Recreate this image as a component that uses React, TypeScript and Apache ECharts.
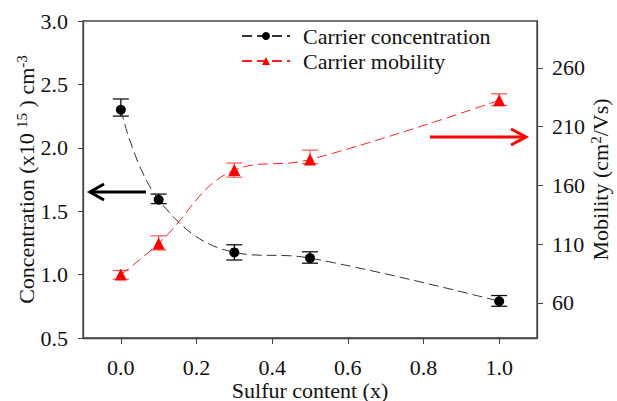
import React, { useEffect, useRef } from "react";
import * as echarts from "echarts";

const sulfur = [0.0, 0.1, 0.3, 0.5, 1.0];
const concentration = [2.30, 1.59, 1.175, 1.13, 0.79];
const concLow = [2.25, 1.56, 1.115, 1.09, 0.75];
const concHigh = [2.385, 1.635, 1.235, 1.18, 0.835];
const mobility = [84, 110.5, 173, 182, 232.5];
const mobLow = [80, 105, 167, 178.5, 228];
const mobHigh = [87.5, 117, 179, 190, 238];
const xTicks = [0, 0.2, 0.4, 0.6, 0.8, 1.0];
const rightTicks = [60, 110, 160, 210, 260];

const FONT = "Liberation Serif, Times New Roman, serif";

export default function App() {
  const ref = useRef<HTMLDivElement>(null);
  useEffect(() => {
    if (!ref.current) return;
    const chart = echarts.init(ref.current, undefined, { renderer: "svg" });
    const errorSeries = (low: number[], high: number[], color: string, yIdx: number, width: number) => ({
      type: "custom",
      yAxisIndex: yIdx,
      z: 1,
      silent: true,
      encode: { x: 0, y: [1, 2] },
      data: sulfur.map((x, i) => [x, low[i], high[i]]),
      renderItem: (params: any, api: any) => {
        const lo = api.coord([api.value(0), api.value(1)]);
        const hi = api.coord([api.value(0), api.value(2)]);
        const hw = 8;
        const style = { stroke: color, lineWidth: width };
        return {
          type: "group",
          children: [
            { type: "line", shape: { x1: lo[0], y1: lo[1], x2: hi[0], y2: hi[1] }, style },
            { type: "line", shape: { x1: lo[0] - hw, y1: lo[1], x2: lo[0] + hw, y2: lo[1] }, style },
            { type: "line", shape: { x1: hi[0] - hw, y1: hi[1], x2: hi[0] + hw, y2: hi[1] }, style },
          ],
        };
      },
    });
    const axisLine = { show: true, onZero: false, lineStyle: { color: "#444", width: 1.3 } };
    const supRich = { s: { fontFamily: FONT, fontSize: 15, color: "#111", verticalAlign: "top", padding: [0, 0, 10, 0] } };
    chart.setOption({
      animation: false,
      backgroundColor: "#fff",
      textStyle: { fontFamily: FONT, color: "#111" },
      grid: {
        left: 83, right: 80, top: 21, bottom: 63,
        outerBoundsMode: "none",
        containLabel: false,
        show: true, borderColor: "#444", borderWidth: 1.3,
      },
      legend: {
        data: ["Carrier concentration", "Carrier mobility"],
        orient: "vertical",
        left: 236,
        top: 20,
        itemWidth: 48,
        itemHeight: 10,
        itemGap: 3,
        textStyle: { fontFamily: FONT, fontSize: 22, color: "#111", padding: [0, 0, 0, 8] },
      },
      xAxis: {
        type: "value",
        min: -0.1,
        max: 1.1,
        name: "Sulfur content (x)",
        nameLocation: "middle",
        nameMoveOverlap: false,
        nameGap: 43,
        nameTextStyle: { fontFamily: FONT, fontSize: 22, lineHeight: 18, color: "#111" },
        axisLine,
        splitLine: { show: false },
        axisTick: { show: true, inside: false, length: 6, customValues: xTicks, lineStyle: { color: "#444" } },
        axisLabel: {
          customValues: xTicks,
          margin: 20,
          fontFamily: FONT,
          fontSize: 22,
          lineHeight: 18,
          color: "#111",
          formatter: (v: number) => v.toFixed(1),
        },
      },
      yAxis: [
        {
          type: "value",
          min: 0.5,
          max: 3.0,
          interval: 0.5,
          position: "left",
          name: "Concentration (x10 {s|15} ) cm{s|-3}",
          nameLocation: "middle",
          nameMoveOverlap: false,
          nameRotate: 90,
          nameGap: 44,
          nameTextStyle: { fontFamily: FONT, fontSize: 22, color: "#111", rich: supRich },
          axisLine,
          splitLine: { show: false },
          axisTick: { show: true, inside: false, length: 5, lineStyle: { color: "#444" } },
          axisLabel: { margin: 15, fontFamily: FONT, fontSize: 22, color: "#111", formatter: (v: number) => v.toFixed(1) },
        },
        {
          type: "value",
          min: 30,
          max: 300,
          position: "right",
          name: "Mobility (cm{s|2}/Vs)",
          nameLocation: "middle",
          nameMoveOverlap: false,
          nameRotate: 90,
          nameGap: 51,
          nameTextStyle: { fontFamily: FONT, fontSize: 22, color: "#111", rich: supRich },
          axisLine,
          splitLine: { show: false },
          axisTick: { show: true, inside: false, length: 6, customValues: rightTicks, lineStyle: { color: "#444" } },
          axisLabel: { customValues: rightTicks, margin: 15, fontFamily: FONT, fontSize: 22, color: "#111" },
        },
      ],
      series: [
        errorSeries(concLow, concHigh, "#111", 0, 1.3),
        errorSeries(mobLow, mobHigh, "#ff5050", 1, 1.2),
        {
          name: "Carrier concentration",
          type: "line",
          yAxisIndex: 0,
          z: 3,
          smooth: 0.4,
          data: sulfur.map((x, i) => [x, concentration[i]]),
          symbol: "circle",
          symbolSize: 10,
          itemStyle: { color: "#000" },
          lineStyle: { color: "#333", width: 1, type: [10, 5] },
        },
        {
          name: "Carrier mobility",
          type: "line",
          yAxisIndex: 1,
          z: 3,
          smooth: 0.4,
          data: sulfur.map((x, i) => [x, mobility[i]]),
          symbol: "triangle",
          symbolSize: 12,
          itemStyle: { color: "#ff0000" },
          lineStyle: { color: "#ff2020", width: 1, type: [10, 5] },
        },
      ],
      graphic: [
        { type: "line", shape: { x1: 92, y1: 192, x2: 146, y2: 192 }, style: { stroke: "#000", lineWidth: 3 } },
        { type: "polyline", shape: { points: [[104, 184], [90, 192], [104, 200]] }, style: { stroke: "#000", lineWidth: 3, fill: null } },
        { type: "line", shape: { x1: 430, y1: 137, x2: 524, y2: 137 }, style: { stroke: "#ff0000", lineWidth: 3 } },
        { type: "polyline", shape: { points: [[511, 129], [526, 137], [511, 145]] }, style: { stroke: "#ff0000", lineWidth: 3, fill: null } },
      ],
    });
    return () => chart.dispose();
  }, []);
  return <div ref={ref} style={{ width: 617, height: 401, position: "absolute", left: 0, top: 0 }} />;
}
